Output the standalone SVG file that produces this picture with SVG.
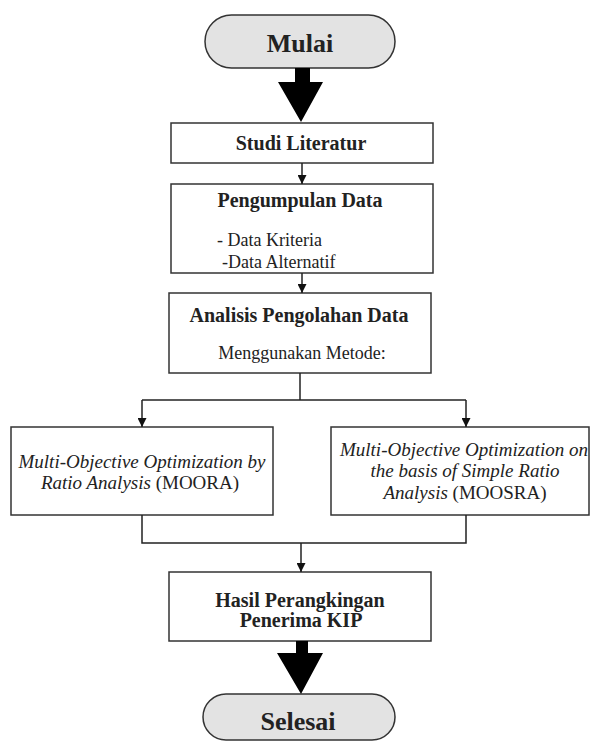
<svg xmlns="http://www.w3.org/2000/svg" width="592" height="742" viewBox="0 0 592 742">
<defs>
<marker id="ah" viewBox="0 0 10 10" refX="10" refY="5" markerWidth="9" markerHeight="9" markerUnits="userSpaceOnUse" orient="auto">
<path d="M0,0 L10,5 L0,10 Z" fill="#111"/>
</marker>
<style>
.box{fill:#fff;stroke:#333;stroke-width:1.5}
.term{fill:#e3e3e3;stroke:#333;stroke-width:1.5}
text{font-family:'Liberation Serif','DejaVu Serif',serif;fill:#222;text-anchor:middle}
.s{text-anchor:start}
.b{font-weight:bold;font-size:20px}
.r{font-size:18px}
.i{font-size:19px;font-style:italic}
.big{font-weight:bold;font-size:26px}
.ln{fill:none;stroke:#222;stroke-width:1.5}
</style>
</defs>
<rect width="592" height="742" fill="#fff"/>
<g id="mulai">
<rect class="term" x="205" y="15" width="190" height="53" rx="26.5"/>
<text class="big" x="300" y="52" font-family="Liberation Serif, serif">Mulai</text>
</g>
<g id="studi">
<rect class="box" x="171" y="123" width="262" height="40"/>
<text class="b" x="301" y="150">Studi Literatur</text>
</g>
<g id="pengumpulan">
<rect class="box" x="171" y="184" width="262" height="89"/>
<text class="b" x="300" y="207">Pengumpulan Data</text>
<text class="r s" x="217" y="246">- Data Kriteria</text>
<text class="r s" x="222" y="268">-Data Alternatif</text>
</g>
<g id="analisis">
<rect class="box" x="169" y="293" width="262" height="80"/>
<text class="b" x="299" y="322">Analisis Pengolahan Data</text>
<text class="r" x="302" y="359">Menggunakan Metode:</text>
</g>
<g id="moora">
<rect class="box" x="11" y="427" width="262" height="88"/>
<text class="i" x="142" y="468">Multi-Objective Optimization by</text>
<text class="i" x="140" y="489">Ratio Analysis <tspan font-style="normal">(MOORA)</tspan></text>
</g>
<g id="moosra">
<rect class="box" x="331" y="427" width="258" height="88"/>
<text class="i" x="464" y="456">Multi-Objective Optimization on</text>
<text class="i" x="465" y="477">the basis of Simple Ratio</text>
<text class="i" x="465" y="499">Analysis <tspan font-style="normal">(MOOSRA)</tspan></text>
</g>
<g id="hasil">
<rect class="box" x="169" y="572" width="262" height="69"/>
<text class="b" x="300" y="607">Hasil Perangkingan</text>
<text class="b" x="301" y="627">Penerima KIP</text>
</g>
<g id="selesai">
<rect class="term" x="203" y="694" width="192" height="46" rx="23"/>
<text class="big" x="298" y="730">Selesai</text>
</g>
<g id="connectors">
<path d="M295,68 H310 V82 H323 L301,122 L278,82 H295 Z" fill="#000"/>
<path class="ln" d="M302,163 V184" marker-end="url(#ah)"/>
<path class="ln" d="M302,273 V293" marker-end="url(#ah)"/>
<path class="ln" d="M300,373 V400"/>
<path class="ln" d="M142,400 H466"/>
<path class="ln" d="M142,400 V427" marker-end="url(#ah)"/>
<path class="ln" d="M466,400 V427" marker-end="url(#ah)"/>
<path class="ln" d="M142,515 V543 H466 V515"/>
<path class="ln" d="M301,543 V572" marker-end="url(#ah)"/>
<path d="M296,641 H308 V653 H323 L301,694 L277,653 H296 Z" fill="#000"/>
</g>
</svg>
